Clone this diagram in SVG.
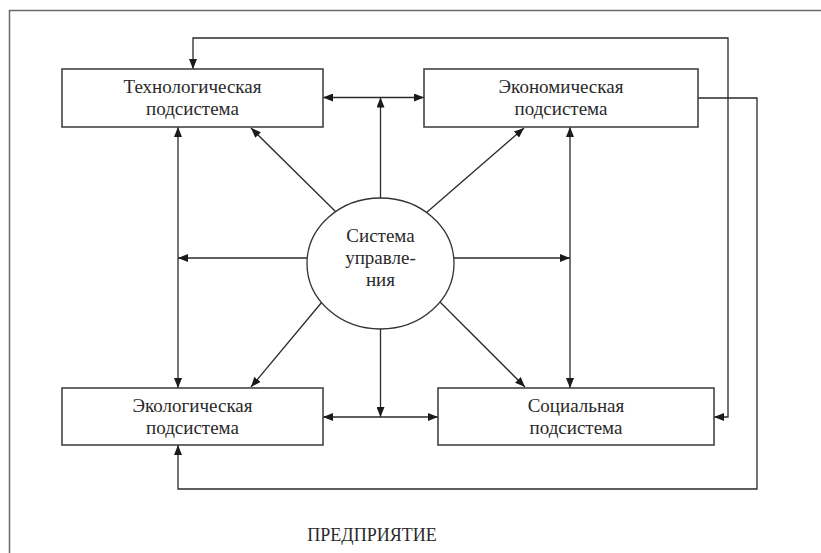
<svg xmlns="http://www.w3.org/2000/svg" width="821" height="553" viewBox="0 0 821 553">
  <style>
    .frame { fill: none; stroke: #6a6a6a; stroke-width: 1.5; }
    .box { fill: #ffffff; stroke: #444444; stroke-width: 1.6; }
    .hub { fill: #ffffff; stroke: #333333; stroke-width: 1.3; }
    .link { fill: none; stroke: #2a2a2a; stroke-width: 1.3; }
    .both { marker-start: url(#head); marker-end: url(#head); }
    .one { marker-end: url(#head); }
    text { font-family: "Liberation Serif", "Times New Roman", serif; font-size: 19px; fill: #2a2a2a; text-anchor: middle; }
    .caption { font-size: 18px; }
  </style>
  <defs>
    <marker id="head" markerUnits="userSpaceOnUse" markerWidth="10" markerHeight="8" refX="10" refY="4" orient="auto-start-reverse">
      <path d="M0,0 L10,4 L0,8 z" fill="#1a1a1a"/>
    </marker>
  </defs>

  <rect width="821" height="553" fill="#ffffff"/>

  <!-- outer frame (top and left edges) -->
  <path class="frame" d="M9.5,553 V10.5 H821"/>

  <!-- connectors -->
  <g id="connectors">
    <!-- feedback loops -->
    <path class="link both" d="M193,69 V38 H728 V417 H714"/>
    <path class="link one" d="M698,98 H757 V489 H178 V445"/>
    <!-- links between neighbouring subsystems -->
    <path class="link both" d="M323,97.5 H424"/>
    <path class="link both" d="M323,417 H438"/>
    <path class="link both" d="M178,127 V388"/>
    <path class="link both" d="M570,127 V388"/>
    <!-- links from the control system -->
    <path class="link one" d="M380.5,198 V97.5"/>
    <path class="link one" d="M380.5,329 V417"/>
    <path class="link one" d="M307,258 H178"/>
    <path class="link one" d="M454,258 H570"/>
    <path class="link one" d="M336,212 L251,128"/>
    <path class="link one" d="M426,213 L524,128"/>
    <path class="link one" d="M322,302 L251,387"/>
    <path class="link one" d="M440,302 L525,387"/>
  </g>

  <g id="tech">
    <rect class="box" x="62" y="69" width="261" height="58"/>
    <text x="192.5" y="93">Технологическая</text>
    <text x="192.5" y="115">подсистема</text>
  </g>

  <g id="econ">
    <rect class="box" x="424" y="69" width="274" height="58"/>
    <text x="561" y="93">Экономическая</text>
    <text x="561" y="115">подсистема</text>
  </g>

  <g id="ecol">
    <rect class="box" x="62" y="388" width="261" height="57"/>
    <text x="192.5" y="412">Экологическая</text>
    <text x="192.5" y="434">подсистема</text>
  </g>

  <g id="social">
    <rect class="box" x="438" y="388" width="276" height="57"/>
    <text x="576" y="412">Социальная</text>
    <text x="576" y="434">подсистема</text>
  </g>

  <g id="control">
    <ellipse class="hub" cx="380.5" cy="263.5" rx="73.5" ry="65.5"/>
    <text x="380.5" y="242">Система</text>
    <text x="380.5" y="264">управле-</text>
    <text x="380.5" y="286">ния</text>
  </g>

  <g id="enterprise">
    <text class="caption" x="372" y="541">ПРЕДПРИЯТИЕ</text>
  </g>
</svg>
